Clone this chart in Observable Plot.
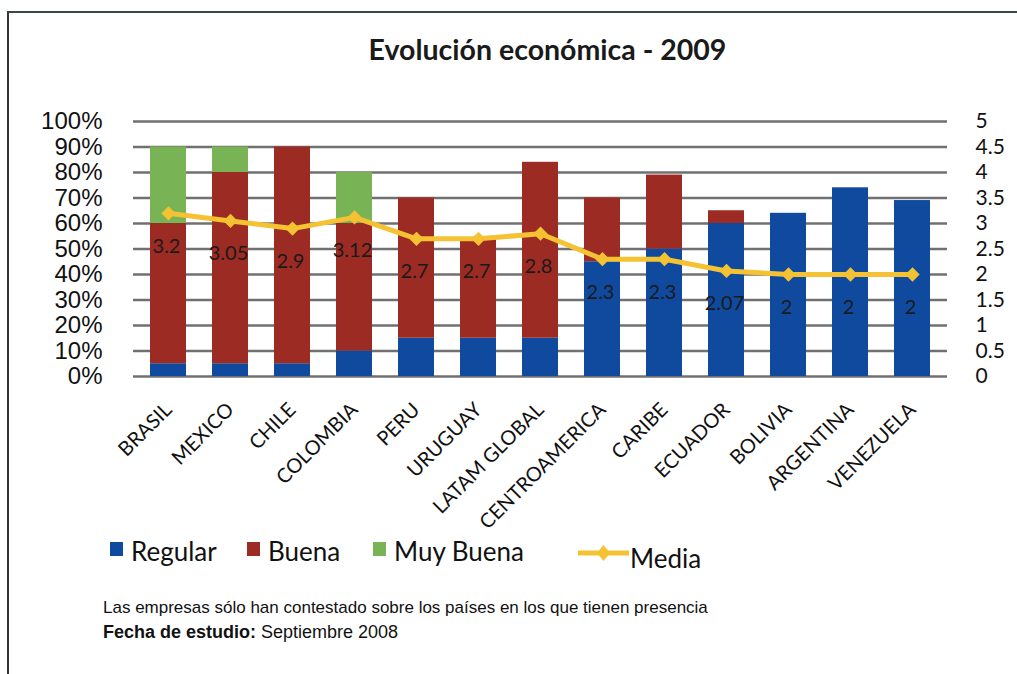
<!DOCTYPE html>
<html>
<head>
<meta charset="utf-8">
<script src="https://cdn.jsdelivr.net/npm/d3@7"></script>
<script src="https://cdn.jsdelivr.net/npm/@observablehq/plot@0.6"></script>
<style>
  body { margin:0; width:1017px; height:674px; position:relative; background:#fff; overflow:hidden; }
  #frame { position:absolute; left:7px; top:11px; width:1030px; height:700px; border-top:2px solid #3c4846; border-left:2px solid #333; }
  #title { position:absolute; top:35px; left:0; width:1095px; text-align:center; font-family:Lato, sans-serif; font-weight:bold; font-size:28.5px; line-height:28px; color:#1a1a1a; }
  #chart { position:absolute; top:100px; left:0; }
  .lg { position:absolute; font-family:Lato, sans-serif; font-size:26px; line-height:26px; color:#111; }
  .sw { position:absolute; width:13px; height:14px; }
  .cap { position:absolute; left:103px; font-family:"Liberation Sans", Arial, sans-serif; font-size:17px; line-height:17px; color:#111; }
</style>
</head>
<body>
<div id="frame"></div>
<div id="title">Evolución económica - 2009</div>
<div id="chart"></div>
<div id="legend"></div>
<div class="cap" style="top:599px">Las empresas sólo han contestado sobre los países en los que tienen presencia</div>
<div class="cap" style="top:624px; font-size:18px"><b>Fecha de estudio:</b> Septiembre 2008</div>
<script>
const countries = ["BRASIL","MEXICO","CHILE","COLOMBIA","PERU","URUGUAY","LATAM GLOBAL","CENTROAMERICA","CARIBE","ECUADOR","BOLIVIA","ARGENTINA","VENEZUELA"];
const regular   = [5, 5, 5, 10, 15, 15, 15, 45, 50, 60, 64, 74, 69];
const buena     = [55, 75, 85, 50, 55, 39, 69, 25, 29, 5, 0, 0, 0];
const muyBuena  = [30, 10, 0, 20, 0, 0, 0, 0, 0, 0, 0, 0, 0];
const media     = [3.2, 3.05, 2.9, 3.12, 2.7, 2.7, 2.8, 2.3, 2.3, 2.07, 2, 2, 2];
const series    = ["Regular", "Buena", "Muy Buena"];
const colors    = ["#0f4a9e", "#9c2b24", "#78b455"];
const mediaColor = "#f4c232";
const leftTicks  = [0, 10, 20, 30, 40, 50, 60, 70, 80, 90, 100];
const rightTicks = [0, 0.5, 1, 1.5, 2, 2.5, 3, 3.5, 4, 4.5, 5];
const rightMax = 5;

const bars = [];
countries.forEach((c, i) => {
  [regular, buena, muyBuena].forEach((arr, j) => {
    bars.push({country: c, serie: series[j], value: arr[i]});
  });
});
const mediaData = countries.map((c, i) => ({country: c, media: media[i]}));
const toLeft = v => v * 100 / rightMax;

const plot = Plot.plot({
  width: 1017,
  height: 430,
  marginTop: 21,
  marginBottom: 154,
  marginLeft: 133,
  marginRight: 70,
  style: {fontFamily: "Lato, sans-serif", background: "transparent", overflow: "visible"},
  x: {domain: countries, paddingInner: 0.42, paddingOuter: 0.21, label: null},
  y: {domain: [0, 100], label: null},
  color: {domain: series, range: colors},
  marks: [
    Plot.gridY(leftTicks, {stroke: "#707070", strokeOpacity: 1, strokeWidth: 2.6}),
    Plot.barY(bars, {x: "country", y: "value", fill: "serie", order: series}),
    Plot.axisY(leftTicks, {anchor: "left", tickSize: 0, tickPadding: 31, tickFormat: d => d + "%", fontSize: 24, fontFamily: "'Liberation Sans', Arial, sans-serif", fill: "#111", label: null}),
    Plot.axisY(rightTicks.map(toLeft), {anchor: "right", tickSize: 0, tickPadding: 28, tickFormat: (d, i) => String(rightTicks[i]), fontSize: 21, fill: "#111", label: null}),
    Plot.axisX({tickSize: 0, tickPadding: 30, tickRotate: -45, fontSize: 20, fill: "#111", label: null}),
    Plot.line(mediaData, {x: "country", y: d => toLeft(d.media), stroke: mediaColor, strokeWidth: 5}),
    Plot.dot(mediaData, {x: "country", y: d => toLeft(d.media), symbol: "diamond2", r: 5.5, fill: mediaColor, stroke: mediaColor}),
    Plot.text(mediaData, {x: "country", y: d => toLeft(d.media), text: d => String(d.media), dy: 33, dx: -2, fontSize: 20, fill: "#1a1a1a"})
  ]
});
document.getElementById("chart").appendChild(plot);

// legend
const legend = document.getElementById("legend");
const items = [
  {label: series[0], color: colors[0], sx: 110, tx: 131},
  {label: series[1], color: colors[1], sx: 247, tx: 268},
  {label: series[2], color: colors[2], sx: 373, tx: 394}
];
items.forEach(it => {
  const s = document.createElement("div");
  s.className = "sw"; s.style.left = it.sx + "px"; s.style.top = "542px"; s.style.background = it.color;
  legend.appendChild(s);
  const t = document.createElement("div");
  t.className = "lg"; t.style.left = it.tx + "px"; t.style.top = "538px"; t.textContent = it.label;
  legend.appendChild(t);
});
const ml = document.createElementNS("http://www.w3.org/2000/svg", "svg");
ml.setAttribute("width", 60); ml.setAttribute("height", 20);
ml.style.position = "absolute"; ml.style.left = "575px"; ml.style.top = "543px";
ml.innerHTML = `<line x1="3" y1="10" x2="54" y2="10" stroke="${mediaColor}" stroke-width="5"/><path d="M28.5 2 L35 10 L28.5 18 L22 10 Z" fill="${mediaColor}"/>`;
legend.appendChild(ml);
const mt = document.createElement("div");
mt.className = "lg"; mt.style.left = "630px"; mt.style.top = "545px"; mt.textContent = "Media";
legend.appendChild(mt);
</script>
</body>
</html>
